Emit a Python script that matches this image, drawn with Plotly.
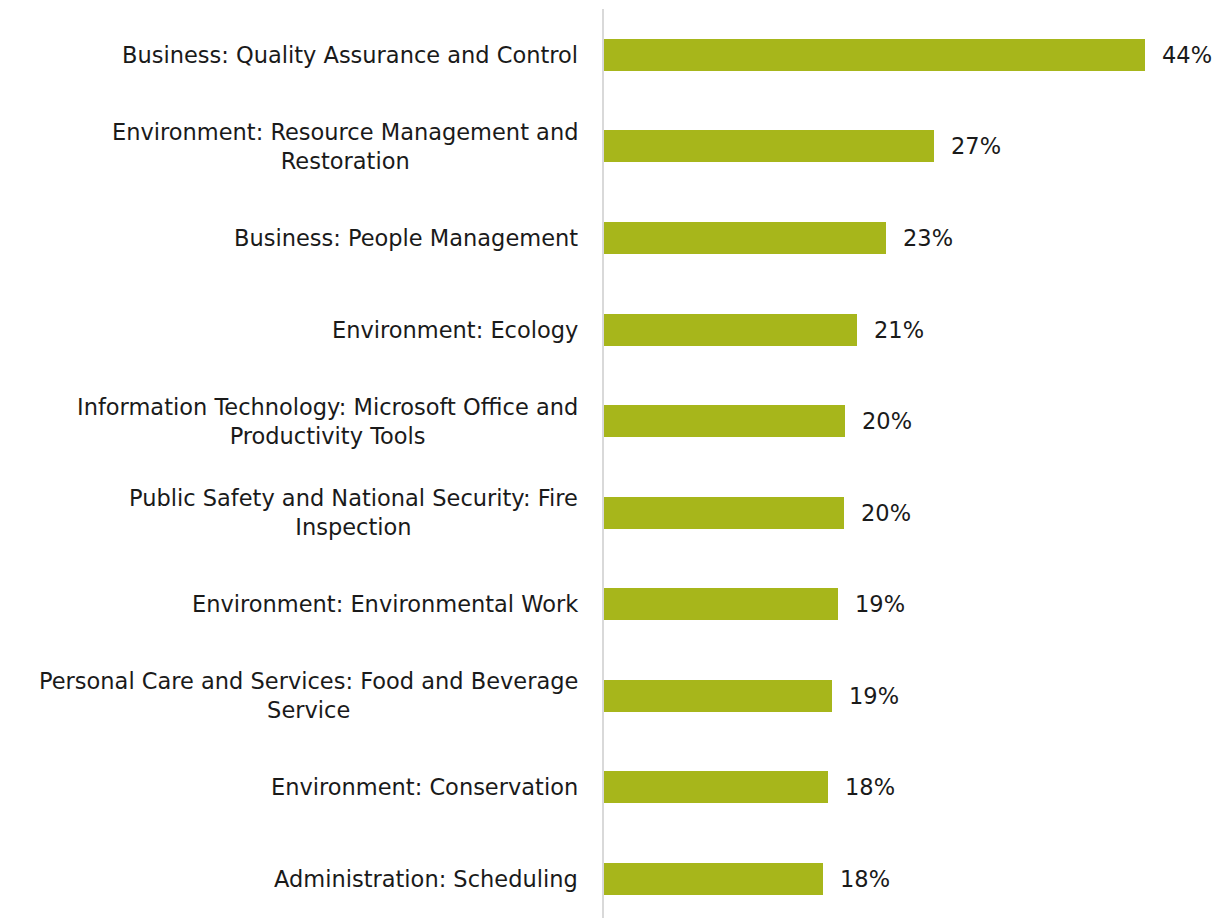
import plotly.graph_objects as go

categories = [
    "Business: Quality Assurance and Control",
    "Environment: Resource Management and<br>Restoration",
    "Business: People Management",
    "Environment: Ecology",
    "Information Technology: Microsoft Office and<br>Productivity Tools",
    "Public Safety and National Security: Fire<br>Inspection",
    "Environment: Environmental Work",
    "Personal Care and Services: Food and Beverage<br>Service",
    "Environment: Conservation",
    "Administration: Scheduling",
]
values = [44.0, 26.8, 22.9, 20.6, 19.6, 19.55, 19.0, 18.5, 18.2, 17.8]
value_labels = ["44%", "27%", "23%", "21%", "20%", "20%", "19%", "19%", "18%", "18%"]

FONT = "DejaVu Sans"
BAR = "#A7B61B"

fig = go.Figure(go.Bar(
    x=values, y=list(range(len(categories))), orientation="h",
    marker=dict(color=BAR, line=dict(width=0)), width=0.35,
    hoverinfo="skip",
))

for i, (cat, v, lab) in enumerate(zip(categories, values, value_labels)):
    fig.add_annotation(x=0, xref="paper", y=i, yref="y", text=cat,
                       xanchor="right", yanchor="middle", align="center",
                       xshift=-24, showarrow=False,
                       font=dict(family=FONT, size=22.5, color="#1a1a1a"))
    fig.add_annotation(x=v, xref="x", y=i, yref="y", text=lab,
                       xanchor="left", yanchor="middle", xshift=15,
                       showarrow=False,
                       font=dict(family=FONT, size=22.5, color="#1a1a1a"))

fig.update_layout(
    width=1218, height=910,
    margin=dict(l=596, r=7, t=1, b=0),
    plot_bgcolor="white", paper_bgcolor="white",
    showlegend=False,
    xaxis=dict(range=[0, 50], showgrid=False, zeroline=False,
               showticklabels=False, showline=False),
    yaxis=dict(range=[9.426, -0.5], showgrid=False, zeroline=False,
               showticklabels=False, showline=True, linecolor="#D9D9D9",
               linewidth=2),
    bargap=0,
)

fig.write_html("out.html")
